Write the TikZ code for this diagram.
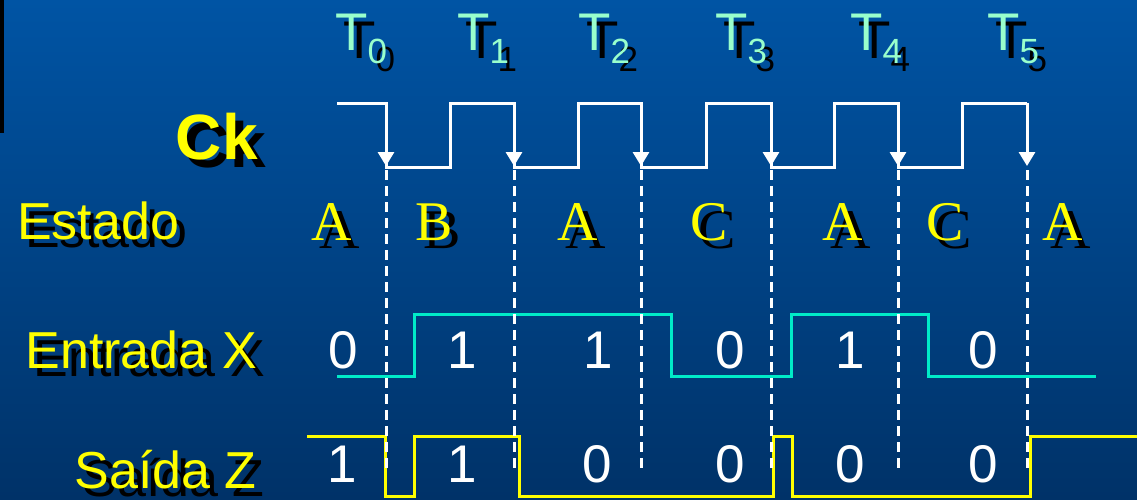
\documentclass[tikz,border=0pt]{standalone}
\usepackage{fontspec}
\setmainfont{Liberation Sans}
\newfontfamily\timesfont{Liberation Serif}
\usetikzlibrary{arrows.meta}
\definecolor{bgtop}{RGB}{0,84,164}
\definecolor{bgbot}{RGB}{0,50,104}
\definecolor{tcol}{RGB}{153,255,204}
\definecolor{cyanline}{RGB}{0,235,200}
\definecolor{ylw}{RGB}{255,255,0}
\newcommand\tsubscr[1]{\raisebox{-13pt}{\fontsize{35}{40}\selectfont #1}}
\tikzset{
  tlabel/.style={inner sep=0pt, anchor=base west, font=\fontsize{53}{60}\selectfont},
  rowlabel/.style={inner sep=0pt, font=\fontsize{52}{60}\selectfont},
  statelbl/.style={inner sep=0pt, anchor=base, font=\timesfont\fontsize{56}{60}\selectfont},
  digit/.style={inner sep=0pt, anchor=base, text=white, font=\fontsize{53}{60}\selectfont},
  shd/.style={text=black, xshift=8pt, yshift=-8pt},
  clk/.style={draw=white, line width=3pt},
  clkarrow/.style={clk, -{Triangle[width=16pt,length=14pt]}},
  xsig/.style={draw=cyanline, line width=3pt},
  zsig/.style={draw=ylw, line width=3pt},
  dsh/.style={draw=white, line width=3pt, dash pattern=on 10pt off 6pt}
}
\begin{document}
\begin{tikzpicture}[x=1pt,y=-1pt]
\useasboundingbox (0,0) rectangle (1137,499);
\shade[top color=bgtop, bottom color=bgbot] (0,0) rectangle (1137,499);
\fill[black] (0,0) rectangle (4,133);

% time labels (shadow, then text)
\foreach \i/\x in {0/335,1/457,2/578,3/715,4/850,5/987}{
  \node[tlabel,shd] (t\i s) at (\x,50) {T\tsubscr{\i}};
  \node[tlabel,text=tcol] (t\i) at (\x,50) {T\tsubscr{\i}};
}

% row labels
\node[rowlabel,shd,anchor=base east,font=\bfseries\fontsize{64}{70}\selectfont] (cks) at (258,159) {Ck};
\node[rowlabel,text=ylw,anchor=base east,font=\bfseries\fontsize{64}{70}\selectfont] (ck) at (258,159) {Ck};
\node[rowlabel,shd,anchor=base west] (estados) at (17,239) {Estado};
\node[rowlabel,text=ylw,anchor=base west] (estado) at (17,239) {Estado};
\node[rowlabel,shd,anchor=base east] (entradas) at (257,368) {Entrada X};
\node[rowlabel,text=ylw,anchor=base east] (entrada) at (257,368) {Entrada X};
\node[rowlabel,shd,anchor=base east] (saidas) at (257,488) {Saída Z};
\node[rowlabel,text=ylw,anchor=base east] (saida) at (257,488) {Saída Z};

% states
\foreach \i/\x/\s in {0/332/A,1/434/B,2/578/A,3/709/C,4/843/A,5/945/C,6/1063/A}{
  \node[statelbl,shd] (s\i s) at (\x,240) {\s};
  \node[statelbl,text=ylw] (s\i) at (\x,240) {\s};
}

% clock
\draw[clk] (337,103) -| (386,167) -| (450,103) -| (514,167) -| (578,103) -| (641,167)
  -| (706,103) -| (771,167) -| (834,103) -| (898,167) -| (962,103) -- (1027,103);
\foreach \x in {386,514,641,771,898,1027}
  \draw[clkarrow] (\x,103) -- (\x,166);

% input X
\draw[xsig] (337,376) -| (414,314) -| (671,376) -| (791,314) -| (928,376) -- (1096,376);
% output Z
\draw[zsig] (307,436) -| (385,496) -| (414,436) -| (519,496) -| (773,436) -| (792,496) -| (1030,436) -- (1137,436);

% digits
\foreach \i/\x/\v in {0/343/0,1/462/1,2/598/1,3/730/0,4/850/1,5/983/0}
  \node[digit] (x\i) at (\x,368) {\v};
\foreach \i/\x/\v in {0/342/1,1/462/1,2/597/0,3/730/0,4/850/0,5/983/0}
  \node[digit] (z\i) at (\x,482) {\v};

% dashed guides
\foreach \x in {386,514,641,771,898,1027}
  \draw[dsh] (\x,170) -- (\x,472);
\end{tikzpicture}
\end{document}
